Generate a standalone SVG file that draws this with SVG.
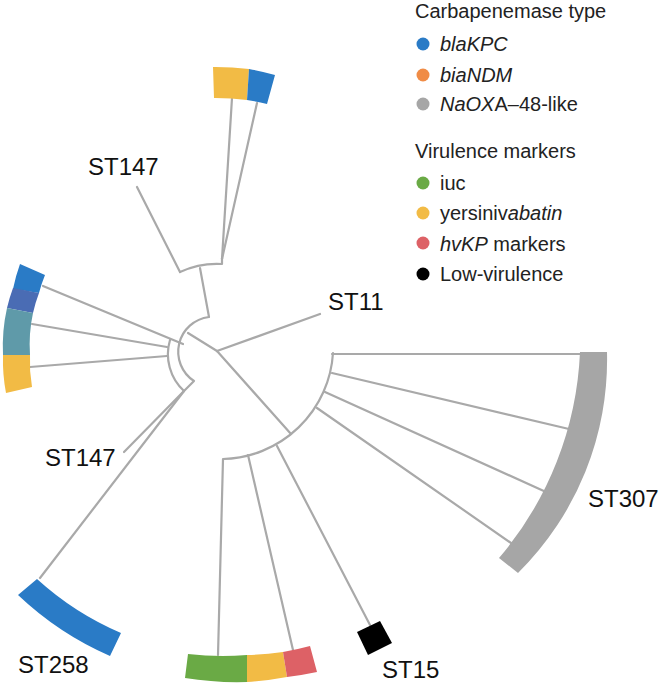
<svg xmlns="http://www.w3.org/2000/svg" width="662" height="685" viewBox="0 0 662 685">
<style>
.ln{fill:none;stroke:#a9a9a9;stroke-width:2.2;stroke-linecap:round;stroke-linejoin:round}
.lbl{font-family:"Liberation Sans",Arial,sans-serif;font-size:24px;fill:#111}
.lg{font-family:"Liberation Sans",Arial,sans-serif;font-size:20px;fill:#222}
.it{font-style:italic}
</style>
<rect width="662" height="685" fill="#fff"/>
<g id="connectors">
<path class="ln" d="M137,187 L180,272"/>
<path class="ln" d="M180,272 A87,87 0 0 1 222,264 L222,258"/>
<path class="ln" d="M232,98 L222,259"/>
<path class="ln" d="M257,103 L222,259"/>
<path class="ln" d="M200,268 L209,317"/>
<path class="ln" d="M209,317 A35,35 0 0 0 194,381 L184,391"/>
<path class="ln" d="M170,340 A50,50 0 0 0 184,391"/>
<path class="ln" d="M43,286 L183,344"/>
<path class="ln" d="M32,324 L167,347"/>
<path class="ln" d="M30,367 L167,356"/>
<path class="ln" d="M188,333 L217,351"/>
<path class="ln" d="M217,351 L320,314"/>
<path class="ln" d="M217,351 L291,434"/>
<path class="ln" d="M184,391 L124,452"/>
<path class="ln" d="M184,391 L40,578"/>
<path class="ln" d="M333,353 A113,113 0 0 1 223,459 L218,655"/>
<path class="ln" d="M248,455 L293,650"/>
<path class="ln" d="M277,446 L370,625"/>
<path class="ln" d="M332,354 L582,354"/>
<path class="ln" d="M332,373 L569,429"/>
<path class="ln" d="M325,392 L546,492"/>
<path class="ln" d="M317,408 L511,543"/>
</g>
<g id="top-cluster">
<path d="M213,67 A280,280 0 0 1 249,69 L247,100 A250,250 0 0 0 214,98 Z" fill="#f2bb45"/>
<path d="M249,69 A280,280 0 0 1 275,75 L267,104 A250,250 0 0 0 247,100 Z" fill="#2a7bc6"/>
</g>
<g id="left-cluster">
<path d="M20,264 L45,275 A150,150 0 0 0 39,293 L13,289 A175,175 0 0 1 20,264 Z" fill="#2a7bc6"/>
<path d="M13,288 L39,293 A150,150 0 0 0 33,313 L7,308 A175,175 0 0 1 13,288 Z" fill="#4a6cb4"/>
<path d="M7,308 L33,313 A150,150 0 0 0 30,355 L3,355 A175,175 0 0 1 7,308 Z" fill="#5f9aa9"/>
<path d="M3,355 L30,355 A150,150 0 0 0 32,387 L6,393 A175,175 0 0 1 3,355 Z" fill="#f2bb45"/>
</g>
<g id="st258">
<path d="M37,579 A300,300 0 0 0 121,633 L110,656 A320,320 0 0 1 18,595 Z" fill="#2a7bc6"/>
<text class="lbl" x="18" y="673">ST258</text>
</g>
<g id="bottom-cluster">
<path d="M188,654 A300,300 0 0 0 247,655 L247,682 A325,325 0 0 1 185,678 Z" fill="#6aaa45"/>
<path d="M247,655 A300,300 0 0 0 283,652 L287,677 A325,325 0 0 1 247,682 Z" fill="#f2bb45"/>
<path d="M283,652 A300,300 0 0 0 310,646 L317,672 A325,325 0 0 1 287,677 Z" fill="#dd6166"/>
</g>
<g id="st15">
<polygon points="357,632 380,621 392,643 368,655" fill="#000"/>
<text class="lbl" x="382" y="678">ST15</text>
</g>
<g id="st307">
<path d="M580,352 L607,352 A300,300 0 0 1 518,573 L499,558 A340,340 0 0 0 580,352 Z" fill="#a6a6a6"/>
<text class="lbl" x="588" y="507">ST307</text>
</g>
<g id="labels">
<text class="lbl" x="88" y="175">ST147</text>
<text class="lbl" x="328" y="310">ST11</text>
<text class="lbl" x="45" y="466">ST147</text>
</g>
<g id="legend">
<text class="lg" x="415" y="18">Carbapenemase type</text>
<circle cx="423" cy="44" r="6.5" fill="#2a7bc6"/>
<text class="lg it" x="440" y="51">blaKPC</text>
<circle cx="423" cy="75" r="6.5" fill="#f08c46"/>
<text class="lg it" x="440" y="82">biaNDM</text>
<circle cx="423" cy="104" r="6.5" fill="#a6a6a6"/>
<text class="lg" x="440" y="111"><tspan class="it">NaOX</tspan>A–48-like</text>
<text class="lg" x="415" y="158">Virulence markers</text>
<circle cx="423" cy="183" r="6.5" fill="#6aaa45"/>
<text class="lg" x="440" y="190">iuc</text>
<circle cx="423" cy="213" r="6.5" fill="#f2bb45"/>
<text class="lg" x="440" y="220">yersiniv<tspan class="it">abatin</tspan></text>
<circle cx="423" cy="243" r="6.5" fill="#dd6166"/>
<text class="lg" x="440" y="251"><tspan class="it">hvKP</tspan> markers</text>
<circle cx="423" cy="274" r="6.5" fill="#000"/>
<text class="lg" x="440" y="281">Low-virulence</text>
</g>
</svg>
